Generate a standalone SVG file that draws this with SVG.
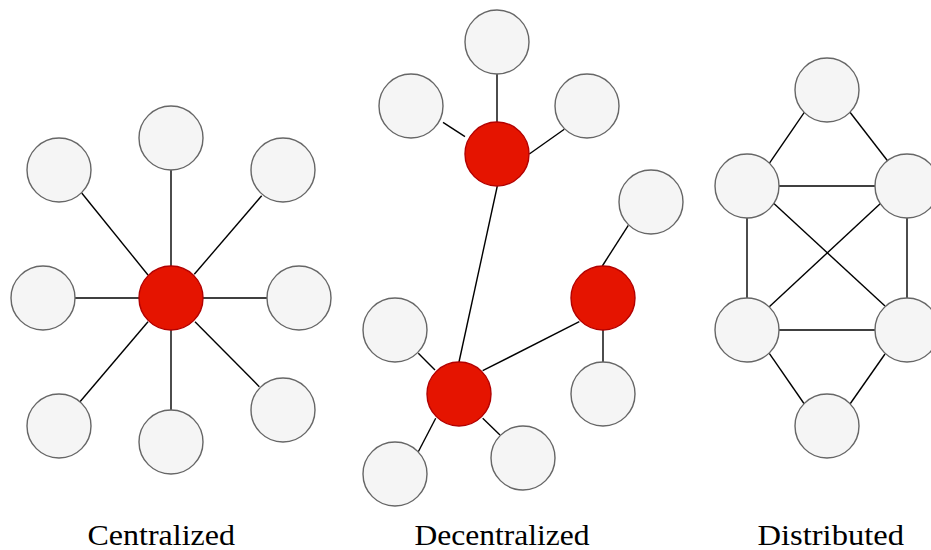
<svg xmlns="http://www.w3.org/2000/svg" width="931" height="550" viewBox="0 0 931 550">
  <style>
    .peer { fill: #f5f5f5; stroke: #666666; stroke-width: 1.4; }
    .hub { fill: #e51400; stroke: #b20000; stroke-width: 1.4; }
    .edge { stroke: #000000; stroke-width: 1.4; fill: none; stroke-linecap: butt; }
    .label { font-family: "Liberation Serif", "DejaVu Serif", serif; font-size: 30px; fill: #000000; }
  </style>
  <rect width="931" height="550" fill="#ffffff"/>

  <!-- connectors -->
  <g id="connectors">
    <!-- centralized star -->
    <line class="edge" x1="171" y1="170" x2="171" y2="266"/>
    <line class="edge" x1="75" y1="298" x2="139" y2="298"/>
    <line class="edge" x1="203" y1="298" x2="267" y2="298"/>
    <line class="edge" x1="171" y1="330" x2="171" y2="410"/>
    <line class="edge" x1="81.7" y1="193" x2="148" y2="275"/>
    <line class="edge" x1="261.7" y1="195.7" x2="194.3" y2="274.3"/>
    <line class="edge" x1="80" y1="401.7" x2="148" y2="321.7"/>
    <line class="edge" x1="195" y1="321.7" x2="259.3" y2="386.7"/>
    <!-- decentralized clusters -->
    <line class="edge" x1="497" y1="74" x2="497" y2="122"/>
    <line class="edge" x1="443" y1="122.3" x2="465" y2="136.7"/>
    <line class="edge" x1="529.3" y1="154" x2="564.3" y2="129.3"/>
    <line class="edge" x1="497.3" y1="186" x2="459" y2="362"/>
    <line class="edge" x1="602.3" y1="266" x2="628.3" y2="225.3"/>
    <line class="edge" x1="603" y1="330" x2="603" y2="362"/>
    <line class="edge" x1="482.7" y1="370.7" x2="579.3" y2="321.7"/>
    <line class="edge" x1="418.3" y1="353.3" x2="435" y2="370"/>
    <line class="edge" x1="435.7" y1="418.3" x2="418.3" y2="451.7"/>
    <line class="edge" x1="482.7" y1="418.3" x2="500" y2="435"/>
    <!-- distributed mesh -->
    <line class="edge" x1="804.3" y1="112.3" x2="769.3" y2="163.3"/>
    <line class="edge" x1="850" y1="112.3" x2="887.7" y2="161"/>
    <line class="edge" x1="779" y1="186" x2="875" y2="186"/>
    <line class="edge" x1="769.3" y1="199.3" x2="885" y2="306"/>
    <line class="edge" x1="885" y1="199.3" x2="769.3" y2="306.7"/>
    <line class="edge" x1="747" y1="218" x2="747" y2="298"/>
    <line class="edge" x1="907" y1="218" x2="907" y2="298"/>
    <line class="edge" x1="779" y1="330" x2="875" y2="330"/>
    <line class="edge" x1="769.3" y1="353.3" x2="804.3" y2="404"/>
    <line class="edge" x1="885" y1="354" x2="850" y2="404"/>
  </g>

  <!-- centralized -->
  <g id="c-hub"><circle class="hub" cx="171" cy="298" r="32"/></g>
  <g id="c-n"><circle class="peer" cx="171" cy="138" r="32"/></g>
  <g id="c-nw"><circle class="peer" cx="59" cy="170" r="32"/></g>
  <g id="c-ne"><circle class="peer" cx="283" cy="170" r="32"/></g>
  <g id="c-w"><circle class="peer" cx="43" cy="298" r="32"/></g>
  <g id="c-e"><circle class="peer" cx="299" cy="298" r="32"/></g>
  <g id="c-sw"><circle class="peer" cx="59" cy="426" r="32"/></g>
  <g id="c-s"><circle class="peer" cx="171" cy="442" r="32"/></g>
  <g id="c-se"><circle class="peer" cx="283" cy="410" r="32"/></g>

  <!-- decentralized -->
  <g id="d-hub1"><circle class="hub" cx="497" cy="154" r="32"/></g>
  <g id="d-hub2"><circle class="hub" cx="603" cy="298" r="32"/></g>
  <g id="d-hub3"><circle class="hub" cx="459" cy="394" r="32"/></g>
  <g id="d-p1"><circle class="peer" cx="497" cy="42" r="32"/></g>
  <g id="d-p2"><circle class="peer" cx="411" cy="106" r="32"/></g>
  <g id="d-p3"><circle class="peer" cx="587" cy="106" r="32"/></g>
  <g id="d-p4"><circle class="peer" cx="651" cy="202" r="32"/></g>
  <g id="d-p5"><circle class="peer" cx="603" cy="394" r="32"/></g>
  <g id="d-p6"><circle class="peer" cx="395" cy="330" r="32"/></g>
  <g id="d-p7"><circle class="peer" cx="395" cy="474" r="32"/></g>
  <g id="d-p8"><circle class="peer" cx="523" cy="458" r="32"/></g>

  <!-- distributed -->
  <g id="m-top"><circle class="peer" cx="827" cy="90" r="32"/></g>
  <g id="m-lu"><circle class="peer" cx="747" cy="186" r="32"/></g>
  <g id="m-ru"><circle class="peer" cx="907" cy="186" r="32"/></g>
  <g id="m-ll"><circle class="peer" cx="747" cy="330" r="32"/></g>
  <g id="m-rl"><circle class="peer" cx="907" cy="330" r="32"/></g>
  <g id="m-bottom"><circle class="peer" cx="827" cy="426" r="32"/></g>

  <!-- captions -->
  <g id="captions">
    <text class="label" x="87.5" y="545" textLength="147.5" lengthAdjust="spacingAndGlyphs">Centralized</text>
    <text class="label" x="414.5" y="545" textLength="175" lengthAdjust="spacingAndGlyphs">Decentralized</text>
    <text class="label" x="757.5" y="545" textLength="146.5" lengthAdjust="spacingAndGlyphs">Distributed</text>
  </g>
</svg>
